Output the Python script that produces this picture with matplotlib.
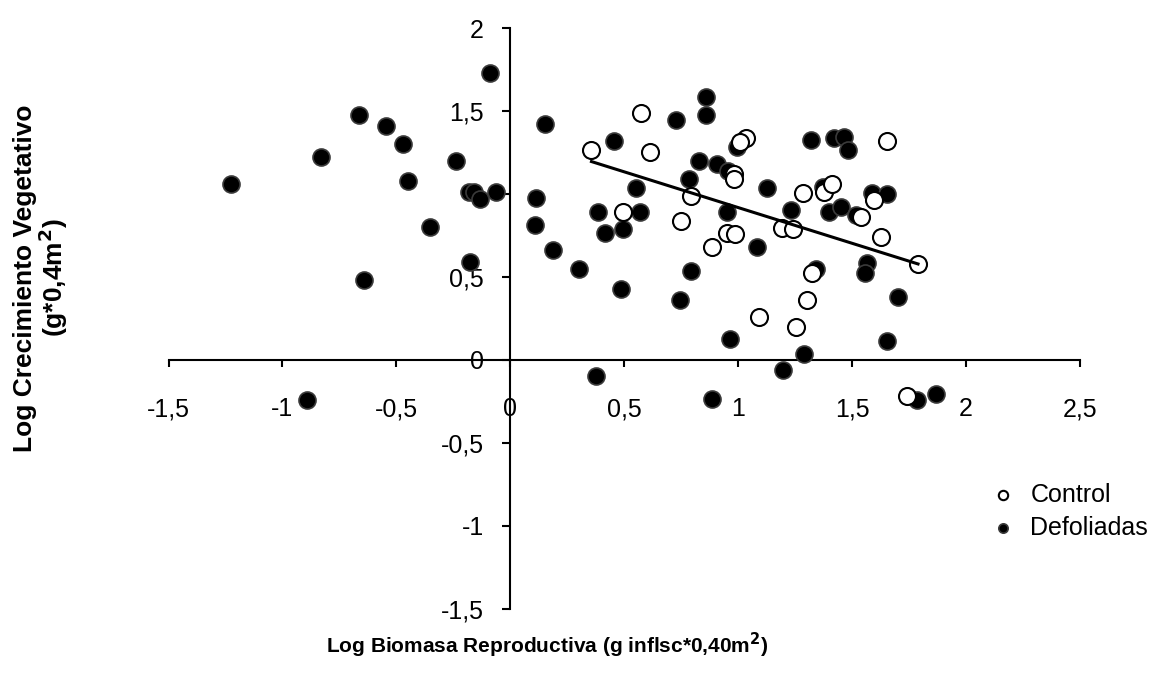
import numpy as np
import matplotlib
matplotlib.use("Agg")
import matplotlib.pyplot as plt

plt.rcParams['font.family'] = ['Liberation Sans', 'DejaVu Sans']

# ----------------- data -----------------
control_x = [0.356, 0.575, 0.615, 0.495, 0.747, 0.793, 0.883, 0.951, 0.988, 0.981,
             0.981, 1.036, 1.010, 1.091, 1.193, 1.241, 1.255, 1.285, 1.303, 1.325,
             1.376, 1.413, 1.651, 1.596, 1.537, 1.625, 1.789, 1.742]
control_y = [1.267, 1.488, 1.257, 0.893, 0.838, 0.989, 0.682, 0.768, 0.758, 1.122,
             1.090, 1.337, 1.317, 0.259, 0.798, 0.788, 0.201, 1.009, 0.360, 0.523,
             1.015, 1.060, 1.323, 0.965, 0.864, 0.744, 0.579, -0.217]

defol_x = [-1.225, -0.830, -0.666, -0.545, -0.473, -0.451, -0.351, -0.641, -0.240, -0.183,
           -0.161, -0.135, -0.061, -0.176, -0.088, -0.893, 0.154, 0.114, 0.107, 0.187,
           0.300, 0.454, 0.384, 0.417, 0.495, 0.487, 0.552, 0.568, 0.376, 0.729,
           0.859, 0.859, 0.827, 0.786, 0.908, 0.957, 0.995, 0.949, 0.793, 0.745,
           0.963, 0.887, 1.082, 1.127, 1.197, 1.288, 1.341, 1.230, 1.319, 1.373,
           1.400, 1.420, 1.464, 1.481, 1.449, 1.515, 1.588, 1.651, 1.566, 1.555,
           1.701, 1.651, 1.783, 1.866]
defol_y = [1.060, 1.222, 1.478, 1.411, 1.301, 1.080, 0.800, 0.483, 1.200, 1.011,
           1.011, 0.971, 1.011, 0.593, 1.733, -0.241, 1.422, 0.979, 0.812, 0.661,
           0.547, 1.321, 0.893, 0.768, 0.792, 0.426, 1.035, 0.893, -0.096, 1.448,
           1.588, 1.478, 1.200, 1.090, 1.180, 1.140, 1.287, 0.893, 0.537, 0.360,
           0.128, -0.237, 0.682, 1.035, -0.060, 0.038, 0.550, 0.905, 1.324, 1.045,
           0.893, 1.337, 1.347, 1.269, 0.925, 0.875, 1.005, 1.001, 0.583, 0.523,
           0.382, 0.116, -0.241, -0.207]

# linear trend for Control
trend_slope = -0.431
trend_intercept = 1.350

x_ticks = [-1.5, -1, -0.5, 0, 0.5, 1, 1.5, 2, 2.5]
y_ticks = [-1.5, -1, -0.5, 0, 0.5, 1, 1.5, 2]


def fmt(v):
    s = f"{v:g}"
    return s.replace(".", ",")


fig = plt.figure(figsize=(11.55, 6.81), dpi=100)
ax = fig.add_axes([0.1459, 0.1062, 0.7892, 0.8522])

ax.scatter(defol_x, defol_y, s=150, facecolor='black', edgecolor='#3a3a3a',
           linewidth=1.2, zorder=3, label='Defoliadas')
ax.scatter(control_x, control_y, s=150, facecolor='white', edgecolor='black',
           linewidth=1.5, zorder=3, label='Control')

tx = np.array([min(control_x), max(control_x)])
ax.plot(tx, trend_slope * tx + trend_intercept, color='black', linewidth=2.2, zorder=4)

ax.set_xlim(-1.5, 2.5)
ax.set_ylim(-1.5, 2)

for side in ['top', 'right']:
    ax.spines[side].set_visible(False)
ax.spines['left'].set_position(('data', 0))
ax.spines['bottom'].set_position(('data', 0))
ax.spines['left'].set_linewidth(1.5)
ax.spines['bottom'].set_linewidth(1.5)

ax.set_xticks(x_ticks)
ax.set_xticklabels([fmt(v) for v in x_ticks])
ax.set_yticks(y_ticks)
ax.set_yticklabels([fmt(v) for v in y_ticks])
ax.tick_params(axis='x', direction='out', length=5, width=1.5, pad=22, labelsize=18)
ax.tick_params(axis='y', direction='out', length=6, width=1.5, pad=13, labelsize=18)

fig.text(0.474, 0.053, r"Log Biomasa Reproductiva (g inflsc*0,40m$^\mathbf{2}$)",
         ha='center', va='center', fontsize=15, fontweight='bold')
fig.text(0.036, 0.592, "Log Crecimiento Vegetativo\n(g*0,4m$^\\mathbf{2}$)",
         ha='center', va='center', rotation=90, fontsize=19, fontweight='bold',
         linespacing=0.95)

handles, labels = ax.get_legend_handles_labels()
leg = fig.legend(handles[::-1], labels[::-1], loc='center left',
                 bbox_to_anchor=(0.838, 0.249), frameon=False, fontsize=18,
                 markerscale=0.55, handletextpad=0.1, labelspacing=0.35,
                 borderaxespad=0)

fig.savefig("out.png", dpi=100)
